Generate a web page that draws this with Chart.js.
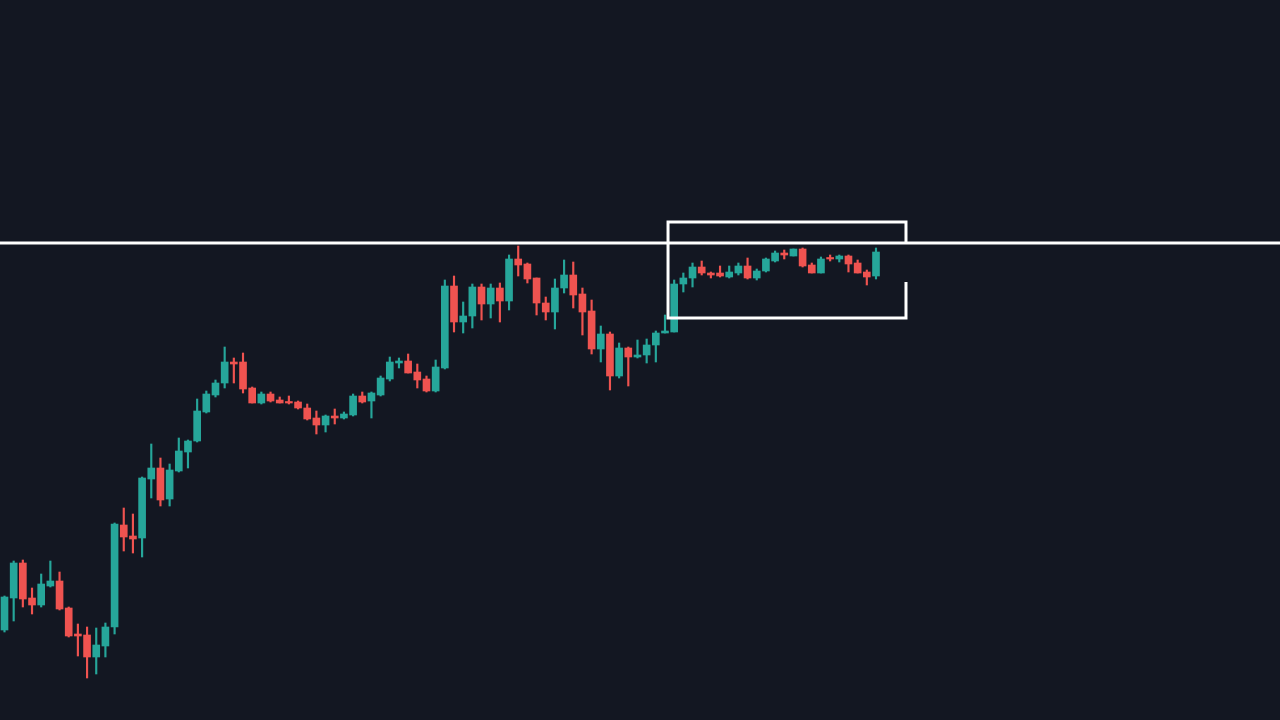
<!DOCTYPE html>
<html>
<head>
<meta charset="utf-8">
<title>Candles</title>
<script src="https://cdn.jsdelivr.net/npm/chart.js@4.4.1/dist/chart.umd.min.js"></script>
<style>
  html, body { margin: 0; padding: 0; background: #131722; }
  .chart-wrap { width: 1280px; height: 720px; }
</style>
</head>
<body>
<div class="chart-wrap"><canvas id="priceChart"></canvas></div>
<script>
// price data, one entry per candle
const opens = [90, 122, 157, 122, 115, 134, 139, 112, 86, 85, 63, 74, 93, 195, 184, 182, 241, 252, 221, 249,
  268, 279, 308, 325, 337, 358, 358, 332, 317, 326, 320, 318, 318, 312, 302, 295, 304, 302, 305, 324,
  319, 325, 341, 357, 359, 348, 341, 329, 352, 434, 398, 404, 433, 416, 432, 419, 461, 456, 442, 417,
  408, 432, 445, 426, 409, 371, 386, 344, 372, 363, 365, 375, 387, 388, 436, 442, 453, 447, 447, 443,
  447, 454, 442, 449, 459, 467, 464, 471, 455, 447, 462, 461, 464, 457, 448, 444];
const highs = [124, 159, 160, 132, 146, 159, 148, 113, 96, 93, 92, 97, 197, 212, 206, 243, 276, 262, 256, 282,
  280, 321, 329, 340, 373, 362, 367, 333, 328, 328, 323, 324, 319, 316, 309, 305, 311, 308, 326, 328,
  328, 344, 363, 362, 366, 356, 344, 360, 440, 444, 418, 436, 436, 436, 437, 465, 474, 457, 442, 423,
  441, 460, 458, 432, 420, 394, 388, 377, 373, 380, 381, 389, 405, 440, 447, 457, 459, 448, 454, 454,
  457, 462, 451, 462, 469, 470, 471, 472, 457, 463, 465, 465, 465, 460, 450, 472];
const lows = [88, 99, 113, 106, 113, 133, 110, 83, 64, 42, 46, 63, 86, 169, 167, 163, 222, 214, 214, 248,
  252, 278, 307, 323, 332, 337, 327, 317, 316, 318, 317, 316, 311, 300, 286, 288, 296, 301, 304, 317,
  302, 324, 339, 352, 347, 332, 328, 328, 351, 388, 387, 392, 400, 402, 398, 410, 444, 437, 405, 400,
  391, 427, 412, 385, 366, 358, 330, 342, 334, 362, 357, 358, 387, 388, 428, 433, 445, 442, 443, 442,
  445, 441, 440, 448, 458, 461, 464, 453, 447, 447, 459, 458, 448, 447, 435, 441];
const closes = [123, 157, 121, 115, 136, 139, 111, 84, 84, 63, 75, 93, 196, 183, 181, 242, 252, 220, 250, 269,
  279, 309, 326, 337, 358, 356, 331, 317, 326, 319, 317, 317, 312, 301, 295, 304, 302, 306, 324, 318,
  327, 342, 358, 359, 347, 340, 329, 353, 434, 398, 404, 433, 416, 432, 419, 461, 455, 441, 417, 408,
  432, 445, 425, 408, 371, 386, 344, 372, 363, 365, 375, 387, 389, 436, 442, 453, 447, 445, 444, 448,
  454, 442, 449, 461, 467, 465, 471, 454, 447, 461, 461, 464, 456, 447, 443, 468];

// resistance level and the range box
const levelPrice = 477;
const boxLeft = 72.33, boxRight = 98.27;
const boxTop = 498, boxBottom = 402;
const boxGapTop = 477, boxGapBottom = 438;

const upColor = "#26a69a";
const downColor = "#ef5350";

const candleColors = opens.map((o, i) => closes[i] >= o ? upColor : downColor);
const bodies = opens.map((o, i) => ({ x: i, y: [o, closes[i]] }));
const wicks = lows.map((l, i) => ({ x: i, y: [l, highs[i]] }));

const boxPath = [
  { x: boxRight, y: boxGapBottom },
  { x: boxRight, y: boxBottom },
  { x: boxLeft, y: boxBottom },
  { x: boxLeft, y: boxTop },
  { x: boxRight, y: boxTop },
  { x: boxRight, y: boxGapTop }
];

const ctx = document.getElementById("priceChart").getContext("2d");
new Chart(ctx, {
  type: "bar",
  data: {
    datasets: [
      {
        type: "line",
        data: [{ x: -2, y: levelPrice }, { x: 150, y: levelPrice }],
        borderColor: "#ffffff",
        borderWidth: 3,
        pointRadius: 0,
        order: 0
      },
      {
        type: "line",
        data: boxPath,
        borderColor: "#ffffff",
        borderWidth: 3,
        borderJoinStyle: "miter",
        pointRadius: 0,
        tension: 0,
        order: 0
      },
      {
        data: bodies,
        backgroundColor: candleColors,
        barThickness: 7,
        minBarLength: 1.5,
        grouped: false,
        order: 1
      },
      {
        data: wicks,
        backgroundColor: candleColors,
        barThickness: 1.5,
        grouped: false,
        order: 2
      }
    ]
  },
  options: {
    responsive: true,
    maintainAspectRatio: false,
    animation: false,
    layout: { padding: 0 },
    scales: {
      x: { type: "linear", min: -0.4905, max: 139.04, offset: false, display: false },
      y: { min: 0, max: 720, display: false }
    },
    plugins: {
      legend: { display: false },
      tooltip: { enabled: false }
    }
  }
});
</script>
</body>
</html>
